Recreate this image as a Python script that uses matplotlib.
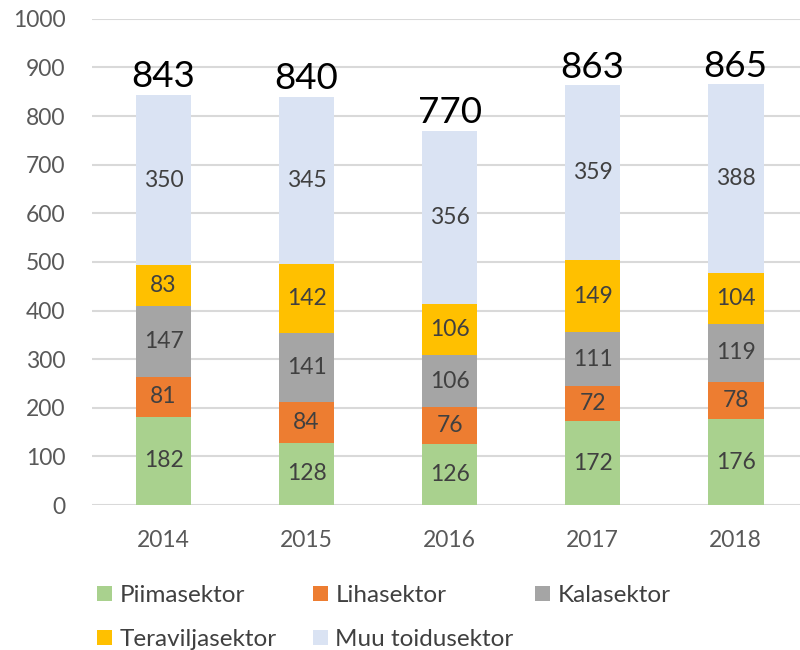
import numpy as np
import matplotlib.pyplot as plt

years = ["2014", "2015", "2016", "2017", "2018"]
series_names = ["Piimasektor", "Lihasektor", "Kalasektor", "Teraviljasektor", "Muu toidusektor"]
piim = [182, 128, 126, 172, 176]
liha = [81, 84, 76, 72, 78]
kala = [147, 141, 106, 111, 119]
tera = [83, 142, 106, 149, 104]
muu = [350, 345, 356, 359, 388]
colors = ["#a9d18e", "#ed7d31", "#a5a5a5", "#ffc000", "#dae3f3"]

plt.rcParams['font.family'] = ['Lato', 'DejaVu Sans']

fig = plt.figure(figsize=(8, 6.5), dpi=100)
ax = fig.add_axes([0.115, 0.223, 0.885, 0.748])

x = np.arange(len(years))
bottom = np.zeros(len(years))
handles = []
for name, vals, col in zip(series_names, [piim, liha, kala, tera, muu], colors):
    vals = np.array(vals, dtype=float)
    b = ax.bar(x, vals, 0.39, bottom=bottom, color=col, label=name, zorder=2)
    handles.append(b)
    for xi, v, bt in zip(x, vals, bottom):
        ax.text(xi, bt + v / 2, f"{int(v)}", ha='center', va='center',
                fontsize=16.5, color='#404040', zorder=3)
    bottom += vals

for xi, tot in zip(x, bottom):
    ax.text(xi, tot + 4, f"{int(tot)}", ha='center', va='bottom',
            fontsize=26.5, color='black', zorder=3)

ax.set_xlim(-0.5, 4.45)
ax.set_ylim(0, 1000)
ax.set_yticks(np.arange(0, 1001, 100))
ax.set_xticks(x)
ax.set_xticklabels(years)
ax.grid(axis='y', color='#d9d9d9', linewidth=1.5, zorder=0)
ax.tick_params(axis='both', length=0, labelsize=16.5, colors='#595959')
ax.tick_params(axis='x', pad=18)
ax.tick_params(axis='y', pad=19)
for s in ax.spines.values():
    s.set_visible(False)

# legend laid out as a grid: one legend per column
columns = [([0, 3], 97), ([1, 4], 313), ([2], 535)]
for idx, xpix in columns:
    leg = fig.legend([handles[i] for i in idx], [series_names[i] for i in idx],
                     loc='upper left', bbox_to_anchor=(xpix / 800, 0.1),
                     frameon=False, fontsize=17.5, handlelength=0.62, handleheight=0.62,
                     handletextpad=0.3, labelspacing=0.95, borderpad=0, borderaxespad=0)
    for t in leg.get_texts():
        t.set_color('#404040')

fig.savefig("out.png", dpi=100)
